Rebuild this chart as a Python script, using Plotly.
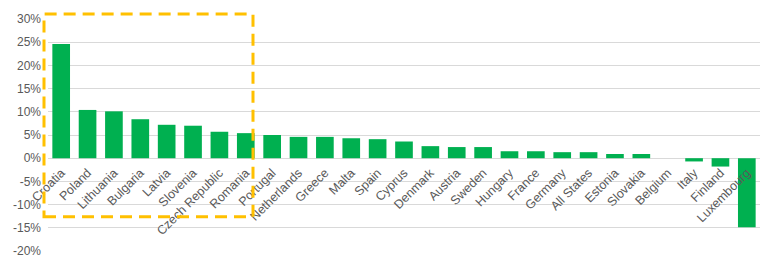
import plotly.graph_objects as go

countries = ["Croatia", "Poland", "Lithuania", "Bulgaria", "Latvia", "Slovenia",
             "Czech Republic", "Romania", "Portugal", "Netherlands", "Greece", "Malta",
             "Spain", "Cyprus", "Denmark", "Austria", "Sweden", "Hungary", "France",
             "Germany", "All States", "Estonia", "Slovakia", "Belgium", "Italy",
             "Finland", "Luxembourg"]
values = [24.6, 10.4, 10.1, 8.4, 7.2, 7.0, 5.7, 5.4, 5.0, 4.6, 4.6, 4.3,
          4.1, 3.6, 2.6, 2.4, 2.4, 1.5, 1.5, 1.3, 1.3, 0.9, 0.9, 0.0, -0.7,
          -1.8, -14.9]
y_ticks = [-20, -15, -10, -5, 0, 5, 10, 15, 20, 25, 30]
y_tick_labels = [f"{v}%" for v in y_ticks]

fig = go.Figure(go.Bar(x=countries, y=values, marker_color="#00B050",
                       marker_line_width=0))

W, H = 777, 270
ml, mr, mt, mb = 48, 17, 16, 17
ymin, ymax = -20, 30
pw = W - ml - mr
ph = H - mt - mb
zero_pos = (0 - ymin) / (ymax - ymin) - 4 / ph

fig.update_layout(
    width=W, height=H,
    margin=dict(l=ml, r=mr, t=mt, b=mb),
    paper_bgcolor="white", plot_bgcolor="white",
    bargap=0.33,
    showlegend=False,
    font=dict(family="Liberation Sans, Arial, sans-serif", size=12, color="#595959"),
    xaxis=dict(anchor="free", position=zero_pos, tickangle=-45, showgrid=False,
               showline=False, ticks="", tickfont=dict(size=12.5, color="#595959")),
    yaxis=dict(range=[ymin, ymax], tickvals=y_ticks, ticktext=y_tick_labels,
               showgrid=True, gridcolor="#D9D9D9", gridwidth=1,
               zeroline=True, zerolinecolor="#D9D9D9", zerolinewidth=1,
               showline=False, ticks="", ticklabelstandoff=6,
               tickfont=dict(size=12, color="#595959")),
)

def px_x(p):
    return (p - ml) / pw
def px_y(p):
    return (H - mb - p) / ph

fig.add_shape(type="rect", xref="paper", yref="paper",
              x0=px_x(44), x1=px_x(253), y0=px_y(218), y1=px_y(11),
              line=dict(color="#FFC000", width=3, dash="12px,7px"),
              fillcolor="rgba(0,0,0,0)", layer="above")

fig.write_html("out.html")
